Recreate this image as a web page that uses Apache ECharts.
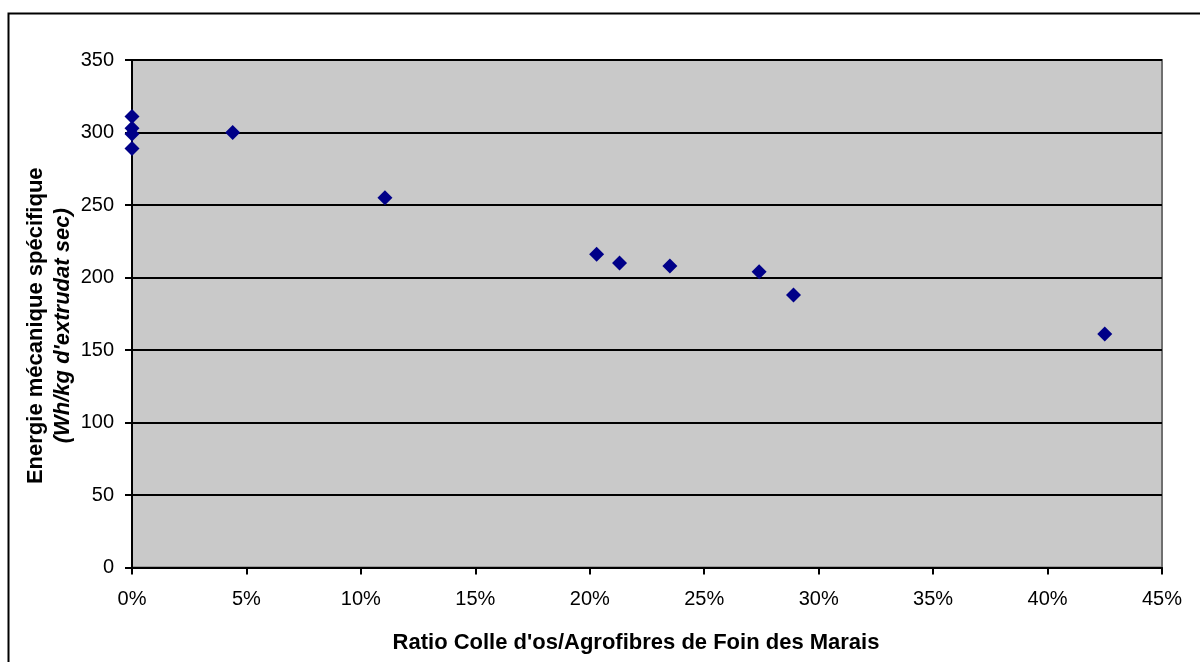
<!DOCTYPE html>
<html>
<head>
<meta charset="utf-8">
<script src="https://cdn.jsdelivr.net/npm/echarts@6/dist/echarts.min.js"></script>
<style>html,body{margin:0;padding:0;background:#fff;}#c{width:1200px;height:662px;}</style>
</head>
<body>
<div id="c"></div>
<script>
// Ratio colle d'os / agrofibres (%) and specific mechanical energy (Wh/kg)
const ratioPct = [0, 0, 0, 0, 4.4, 11.05, 20.3, 21.3, 23.5, 27.4, 28.9, 42.5];
const energy   = [311, 303, 299, 289, 300, 255, 216, 210, 208, 204, 188, 161];
const xTicks = { min: 0, max: 45, interval: 5 };
const yTicks = { min: 0, max: 350, interval: 50 };
const xTitle = "Ratio Colle d'os/Agrofibres de Foin des Marais";
const yTitle1 = "Energie mécanique spécifique";
const yTitle2 = "(Wh/kg d'extrudat sec)";

const points = ratioPct.map((x, i) => [x, energy[i]]);
const font = "'Liberation Sans', Arial, sans-serif";

const chart = echarts.init(document.getElementById('c'), null, { renderer: 'canvas' });
chart.setOption({
  animation: false,
  backgroundColor: '#ffffff',
  textStyle: { fontFamily: font },
  grid: {
    left: 132, right: 38, top: 60, bottom: 94.5,
    show: true, backgroundColor: '#c9c9c9', borderColor: '#6f6f6f', borderWidth: 2
  },
  xAxis: {
    type: 'value', min: xTicks.min, max: xTicks.max, interval: xTicks.interval,
    name: xTitle, nameLocation: 'middle', nameGap: 64,
    nameTextStyle: { fontFamily: font, fontSize: 22, fontWeight: 'bold', color: '#000', padding: [0, 22, 0, 0] },
    axisLine: { show: true, onZero: false, lineStyle: { color: '#000', width: 2 } },
    axisTick: { show: true, inside: false, length: 7, lineStyle: { color: '#000', width: 2 } },
    axisLabel: { formatter: '{value}%', fontFamily: font, fontSize: 20, color: '#000', margin: 22 },
    splitLine: { show: false }
  },
  yAxis: {
    type: 'value', min: yTicks.min, max: yTicks.max, interval: yTicks.interval,
    name: '{a|' + yTitle1 + '}\n{b|' + yTitle2 + '}',
    nameLocation: 'middle', nameRotate: 90, nameGap: 56, nameMoveOverlap: false,
    nameTextStyle: {
      color: '#000', align: 'center', padding: [0, 24, 0, 0],
      rich: {
        a: { fontFamily: font, fontSize: 22, fontWeight: 'bold', lineHeight: 27, color: '#000' },
        b: { fontFamily: font, fontSize: 22, fontWeight: 'bold', fontStyle: 'italic', lineHeight: 27, color: '#000' }
      }
    },
    axisLine: { show: true, onZero: false, lineStyle: { color: '#000', width: 2 } },
    axisTick: { show: true, inside: false, length: 7, lineStyle: { color: '#000', width: 2 } },
    axisLabel: { fontFamily: font, fontSize: 20, color: '#000', margin: 18 },
    splitLine: { show: true, lineStyle: { color: '#000', width: 2 } }
  },
  series: [{
    type: 'scatter',
    data: points,
    symbol: 'diamond',
    symbolSize: 15,
    itemStyle: { color: '#000088', opacity: 1 },
    z: 5
  }],
  graphic: [{
    type: 'rect', silent: true, z: 100,
    shape: { x: 8.5, y: 13.5, width: 1300, height: 800 },
    style: { fill: 'none', stroke: '#000', lineWidth: 2 }
  }]
});
</script>
</body>
</html>
